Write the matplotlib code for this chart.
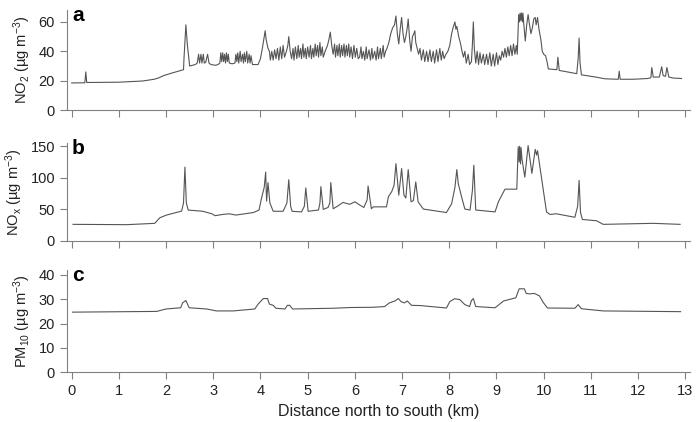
import matplotlib
matplotlib.use('Agg')
import matplotlib.pyplot as plt

plt.rcParams['font.family'] = ['Liberation Sans', 'DejaVu Sans']
plt.rcParams['font.size'] = 10.5
plt.rcParams['mathtext.fontset'] = 'custom'
plt.rcParams['mathtext.rm'] = 'Liberation Sans'
plt.rcParams['mathtext.it'] = 'Liberation Sans:italic'
plt.rcParams['mathtext.bf'] = 'Liberation Sans:bold'

# NO2 along the route (distance km, ug m-3)
no2_x = [0.00, 0.28, 0.30, 0.32, 1.00, 1.50, 1.75, 1.85, 1.95, 2.10, 2.30, 2.37, 2.38, 2.42, 2.45, 2.50,
         2.62, 2.66, 2.69, 2.71, 2.74, 2.76, 2.79, 2.81, 2.84, 2.88, 2.91, 2.95, 3.05, 3.10,
         3.14, 3.16, 3.18, 3.20, 3.22, 3.24, 3.26, 3.28, 3.30, 3.32, 3.34, 3.40,
         3.46, 3.48, 3.50, 3.52, 3.54, 3.57, 3.59, 3.62, 3.64, 3.66, 3.68, 3.71, 3.73, 3.76, 3.78, 3.80, 3.83, 3.95,
         4.00, 4.04, 4.08, 4.10, 4.12, 4.16, 4.19, 4.21, 4.24, 4.27, 4.30, 4.33, 4.36, 4.39, 4.42, 4.45, 4.48, 4.51,
         4.55, 4.58, 4.60, 4.63, 4.66, 4.69, 4.71, 4.74, 4.77, 4.80, 4.82, 4.85, 4.87, 4.90, 4.92, 4.95, 4.97,
         5.00, 5.03, 5.06, 5.08, 5.11, 5.13, 5.16, 5.18, 5.21, 5.23, 5.26, 5.28, 5.31, 5.33, 5.37, 5.42, 5.45,
         5.48, 5.51, 5.54, 5.57, 5.59, 5.62, 5.64, 5.67, 5.69, 5.72, 5.74, 5.77, 5.79, 5.82, 5.84, 5.87, 5.89,
         5.92, 5.95, 5.98, 6.01, 6.04, 6.07, 6.10, 6.13, 6.15, 6.18, 6.21, 6.24, 6.26, 6.30, 6.33, 6.36, 6.38,
         6.42, 6.45, 6.48, 6.50, 6.54, 6.56, 6.60, 6.62, 6.65, 6.68, 6.72, 6.76, 6.80, 6.84, 6.87, 6.90, 6.93,
         6.96, 6.99, 7.02, 7.05, 7.08, 7.11, 7.13, 7.16, 7.19, 7.22, 7.25, 7.27, 7.29, 7.32, 7.35, 7.38, 7.41,
         7.45, 7.48, 7.52, 7.55, 7.59, 7.62, 7.66, 7.69, 7.73, 7.76, 7.80, 7.83, 7.86, 7.89, 7.93, 7.97, 8.01,
         8.05, 8.08, 8.10, 8.12, 8.14, 8.16, 8.20, 8.24, 8.27, 8.30, 8.33, 8.36, 8.40, 8.43, 8.47, 8.49, 8.51,
         8.53, 8.56, 8.59, 8.62, 8.65, 8.68, 8.72, 8.75, 8.79, 8.82, 8.86, 8.89, 8.93, 8.96, 9.00, 9.03, 9.06,
         9.09, 9.12, 9.15, 9.18, 9.21, 9.24, 9.27, 9.30, 9.33, 9.36, 9.39, 9.42, 9.44, 9.46, 9.47, 9.49, 9.50,
         9.52, 9.53, 9.55, 9.56, 9.58, 9.61, 9.64, 9.67, 9.70, 9.73, 9.76, 9.79, 9.82, 9.84, 9.87, 9.90, 9.94,
         9.97, 10.00, 10.04, 10.07, 10.10, 10.28, 10.30, 10.33, 10.50, 10.70, 10.73, 10.75, 10.77, 10.80,
         11.10, 11.30, 11.58, 11.60, 11.62, 11.90, 12.20, 12.27, 12.29, 12.32, 12.45, 12.50, 12.53, 12.58,
         12.61, 12.65, 12.75, 12.92]
no2_y = [18.5, 18.6, 26.0, 18.8, 19.0, 19.8, 21.0, 22.0, 23.5, 25.0, 26.8, 27.5, 35.0, 58.0, 45.0, 30.0,
         31.0, 32.0, 38.0, 32.0, 38.0, 32.0, 38.0, 32.0, 32.5, 38.0, 32.0, 31.0, 30.5, 31.0,
         32, 39, 33, 39, 33, 38, 32, 39, 33, 38, 32, 31.5,
         32, 38, 33, 39, 32, 40, 33, 38, 32, 39, 33, 40, 32, 38, 32, 37, 31, 31,
         35, 42, 50, 54, 48, 42, 40, 34, 40, 34, 41, 35, 42, 34, 43, 35, 44, 36,
         40, 44, 50, 40, 35, 42, 34, 43, 35, 44, 36, 42, 35, 45, 36, 42, 35,
         43, 36, 44, 35, 42, 36, 45, 37, 44, 36, 46, 37, 43, 36, 40, 44, 48,
         53, 44, 38, 45, 36, 44, 37, 45, 36, 44, 37, 45, 36, 44, 37, 45, 36,
         43, 35, 44, 36, 42, 35, 36, 43, 35, 40, 34, 43, 35, 41, 34, 42, 35,
         40, 34, 43, 35, 42, 35, 44, 36, 40, 42, 46, 52, 56, 58, 64, 52, 45,
         55, 63, 52, 46, 50, 56, 62, 48, 40, 50, 52, 54, 46, 42, 38, 42, 34,
         41, 33, 40, 33, 41, 33, 40, 32, 41, 33, 42, 34, 40, 35, 38, 40, 44,
         52, 56, 58, 60, 55, 57, 50, 45, 40, 36, 40, 32, 38, 31, 33, 45, 60,
         42, 32, 40, 31, 39, 32, 38, 31, 38, 31, 39, 30, 38, 30, 39, 31, 37,
         34, 40, 36, 42, 36, 43, 37, 44, 37, 45, 38, 44, 38, 55, 65, 60, 66,
         61, 66, 60, 66, 58, 47, 58, 65, 58, 52, 56, 62, 63, 58, 63, 55, 48,
         40, 38, 37, 33, 28, 27.5, 36, 27, 26, 24.8, 35, 49, 32, 24,
         22.5, 21.3, 21.0, 26.5, 21.0, 21.0, 21.5, 22, 29, 22.5, 22.5, 29.5, 23.5, 23,
         29, 22.5, 21.8, 21.5]

# NOx along the route
nox_x = [0.03, 1.17, 1.76, 1.87, 2.01, 2.33, 2.37, 2.40, 2.43, 2.47, 2.78, 2.97, 3.04, 3.20, 3.34, 3.48,
         3.85, 3.97, 4.02, 4.08, 4.11, 4.13, 4.16, 4.20, 4.27, 4.48, 4.56, 4.60, 4.64, 4.67, 4.87, 4.93,
         4.96, 5.01, 5.23, 5.26, 5.28, 5.33, 5.43, 5.47, 5.49, 5.54, 5.63, 5.75, 5.89, 6.00, 6.10, 6.19,
         6.26, 6.28, 6.35, 6.39, 6.67, 6.71, 6.78, 6.83, 6.87, 6.93, 6.99, 7.04, 7.08, 7.13, 7.19, 7.24,
         7.29, 7.34, 7.45, 7.94, 8.05, 8.12, 8.16, 8.19, 8.26, 8.33, 8.44, 8.49, 8.52, 8.56, 8.97, 9.04,
         9.18, 9.43, 9.46, 9.48, 9.49, 9.51, 9.52, 9.54, 9.56, 9.60, 9.67, 9.75, 9.82, 9.85, 9.87, 9.92,
         10.06, 10.13, 10.27, 10.66, 10.72, 10.75, 10.78, 10.82, 11.12, 11.26, 12.32, 12.89]
nox_y = [26.3, 25.8, 27.9, 36.8, 41.0, 47.3, 60, 117, 60, 48.9, 47, 43, 40, 42, 43, 41,
         45, 49, 67, 85, 109, 63, 92.5, 60, 47, 47, 60, 97, 55, 47, 46, 55,
         84, 47, 49, 60, 86, 50, 53, 60, 92.5, 51, 55, 61, 58, 62, 57, 53,
         65, 87, 51, 54, 54, 70, 78, 88, 122.5, 72.5, 114.6, 72.5, 68, 113, 62, 64,
         93.5, 62, 50.5, 45, 59, 85, 113, 91, 70, 50.5, 49, 80, 120, 49, 46, 62,
         82, 82, 149, 125, 150, 122, 148, 130, 120, 101, 151, 107, 145, 136, 143, 117,
         46, 42, 43, 37.5, 55, 96, 45, 34, 32, 26.3, 27.9, 26.3]

# PM10 along the route
pm_x = [0.02, 1.80, 2.00, 2.31, 2.35, 2.42, 2.49, 2.86, 3.07, 3.42, 3.88, 3.95, 4.06, 4.15, 4.19, 4.27,
        4.33, 4.52, 4.57, 4.62, 4.68, 5.54, 5.90, 6.39, 6.63, 6.73, 6.85, 6.92, 6.98, 7.05, 7.11, 7.20,
        7.39, 7.94, 8.01, 8.11, 8.22, 8.33, 8.43, 8.47, 8.51, 8.56, 8.97, 9.15, 9.41, 9.48, 9.59, 9.63,
        9.70, 9.80, 9.91, 9.99, 10.08, 10.66, 10.73, 10.80, 11.26, 12.90]
pm_y = [24.7, 25.0, 26.0, 26.5, 28.5, 29.5, 26.5, 26.0, 25.2, 25.2, 26.0, 28.0, 30.3, 30.3, 28.0, 27.5,
        26.3, 26.0, 27.5, 27.5, 26.0, 26.3, 26.6, 26.7, 27.0, 28.5, 29.3, 30.3, 29.0, 28.5, 29.3, 27.5,
        27.4, 26.4, 29.0, 30.2, 29.9, 27.8, 27.0, 29.5, 30.3, 27.0, 26.5, 29.3, 30.6, 34.3, 34.3, 32.4,
        32.2, 32.4, 31.4, 28.7, 26.4, 26.3, 27.8, 26.1, 25.2, 24.9]

panels = [
    ('a', no2_x, no2_y, 'NO$_2$ (\u00b5g m$^{-3}$)', [0, 20, 40, 60], 68),
    ('b', nox_x, nox_y, 'NO$_\\mathrm{x}$ (\u00b5g m$^{-3}$)', [0, 50, 100, 150], 155),
    ('c', pm_x, pm_y, 'PM$_{10}$ (\u00b5g m$^{-3}$)', [0, 10, 20, 30, 40], 42),
]
boxes = [[0.096, 0.739, 0.894, 0.237],
         [0.096, 0.429, 0.894, 0.232],
         [0.096, 0.118, 0.894, 0.242]]

fig = plt.figure(figsize=(6.97, 4.22), dpi=100)
spine_col = '#808080'
for (lab, xs, ys, ylab, yt, ytop), box in zip(panels, boxes):
    ax = fig.add_axes(box)
    ax.plot(xs, ys, color='#555555', lw=0.8)
    ax.set_xlim(-0.1, 13.1)
    ax.set_ylim(0, ytop)
    ax.set_yticks(yt)
    ax.set_xticks(range(14))
    ax.spines['top'].set_visible(False)
    ax.spines['right'].set_visible(False)
    ax.spines['left'].set_color(spine_col)
    ax.spines['bottom'].set_color(spine_col)
    ax.tick_params(colors=spine_col, labelcolor='#222222', length=5, width=0.8)
    ax.set_ylabel(ylab, color='#222222', labelpad=4)
    if lab != 'c':
        ax.set_xticklabels([])
    ax.text(0.008, 1.04, lab, transform=ax.transAxes, fontsize=15,
            fontweight='bold', va='top', ha='left')

ax.set_xlabel('Distance north to south (km)', color='#222222', fontsize=11.5)
fig.savefig('out.png', dpi=100)
